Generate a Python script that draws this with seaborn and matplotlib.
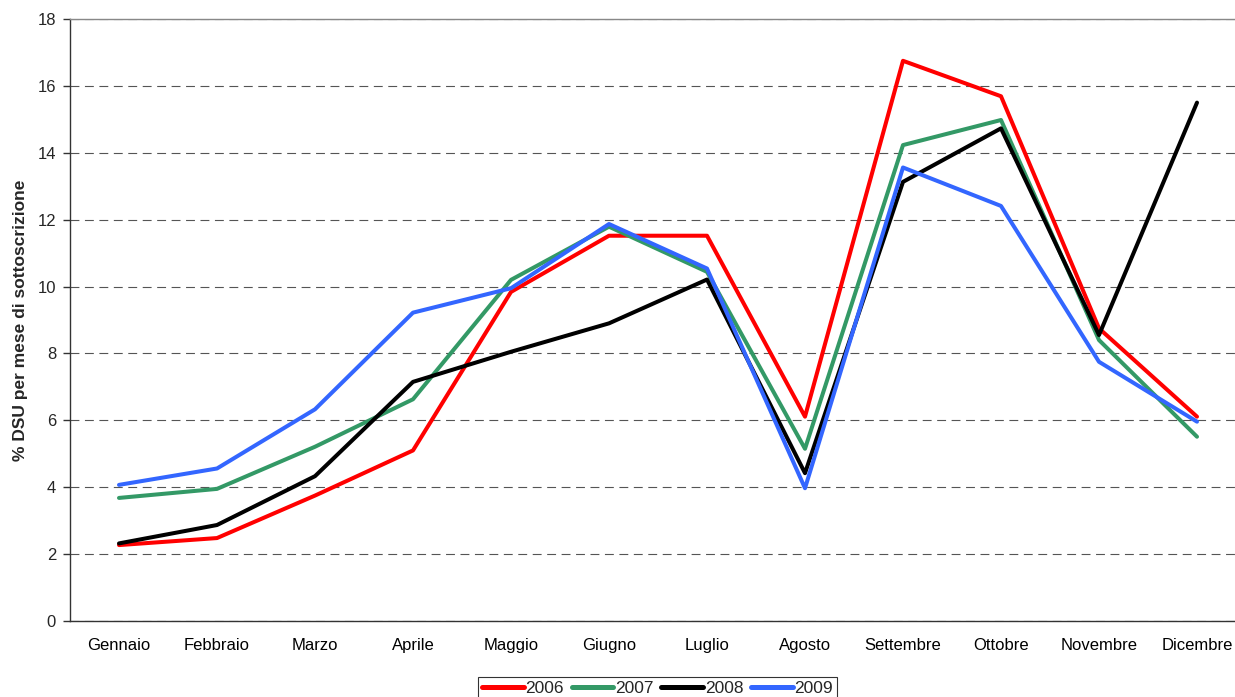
import matplotlib
matplotlib.use("Agg")
import matplotlib.pyplot as plt
import seaborn as sns
import pandas as pd
from matplotlib.ticker import MultipleLocator, FixedLocator

mesi = ["Gennaio", "Febbraio", "Marzo", "Aprile", "Maggio", "Giugno",
        "Luglio", "Agosto", "Settembre", "Ottobre", "Novembre", "Dicembre"]
anni = ["2006", "2007", "2008", "2009"]

v2006 = [2.27, 2.48, 3.75, 5.10, 9.84, 11.52, 11.52, 6.11, 16.75, 15.69, 8.75, 6.11]
v2007 = [3.68, 3.95, 5.21, 6.63, 10.20, 11.79, 10.44, 5.15, 14.23, 14.98, 8.40, 5.51]
v2008 = [2.32, 2.87, 4.33, 7.15, 8.05, 8.90, 10.21, 4.42, 13.13, 14.73, 8.55, 15.50]
v2009 = [4.07, 4.56, 6.33, 9.22, 9.95, 11.87, 10.54, 3.97, 13.56, 12.41, 7.75, 5.96]

colori = ["#FF0000", "#339966", "#000000", "#3366FF"]

# tabella lunga per seaborn
righe = []
for anno, valori in zip(anni, [v2006, v2007, v2008, v2009]):
    for m, v in zip(mesi, valori):
        righe.append({"mese": m, "anno": anno, "valore": v})
df = pd.DataFrame(righe)

sns.set_style("white")
plt.rcParams["font.family"] = ["Liberation Sans", "DejaVu Sans"]

fig = plt.figure(figsize=(12.35, 6.97), dpi=100)
# l'asse continua oltre il bordo destro come nell'originale
ax = fig.add_axes([70 / 1235, 1 - 621 / 697, 1176 / 1235, 602 / 697])

sns.lineplot(data=df, x="mese", y="valore", hue="anno", palette=colori,
             linewidth=2.9, ax=ax, legend=False, sort=False)

ax.set_xlim(-0.5, 11.5)
ax.set_ylim(0, 18)
ax.yaxis.set_major_locator(MultipleLocator(2))
ax.grid(axis="y", color="#555555", linestyle=(0, (8, 5)), linewidth=0.8)
ax.grid(axis="x", visible=False)

for s in ["left", "bottom"]:
    ax.spines[s].set_color("#333333")
    ax.spines[s].set_linewidth(1.0)
ax.spines["top"].set_color("#888888")
ax.spines["top"].set_linewidth(1.0)
ax.spines["right"].set_visible(False)

# tacche dell'asse x ai confini delle categorie
ax.xaxis.set_minor_locator(FixedLocator([i - 0.5 for i in range(13)]))
ax.tick_params(axis="x", which="major", length=0, labelsize=12, pad=12, colors="black")
ax.tick_params(axis="x", which="minor", length=5, width=1, color="#333333", direction="out")
ax.tick_params(axis="y", length=5, width=1, color="#333333", labelsize=12, pad=5,
               direction="out", left=True)

ax.set_xlabel("")
ax.set_ylabel("% DSU per mese di sottoscrizione", fontsize=12.5, fontweight="bold")
ax.yaxis.set_label_coords(-0.036, 0.5)

handles = [plt.Line2D([0], [0], color=c, linewidth=3.6) for c in colori]
leg = fig.legend(handles, anni, loc="lower center", bbox_to_anchor=(0.5324, -0.005),
                 ncol=4, frameon=True, fancybox=False, edgecolor="black",
                 fontsize=12.5, handlelength=2.4, handletextpad=0.1, columnspacing=0.45,
                 borderpad=0.25, borderaxespad=0)
leg.get_frame().set_linewidth(0.8)

fig.savefig("out.png", dpi=100)
